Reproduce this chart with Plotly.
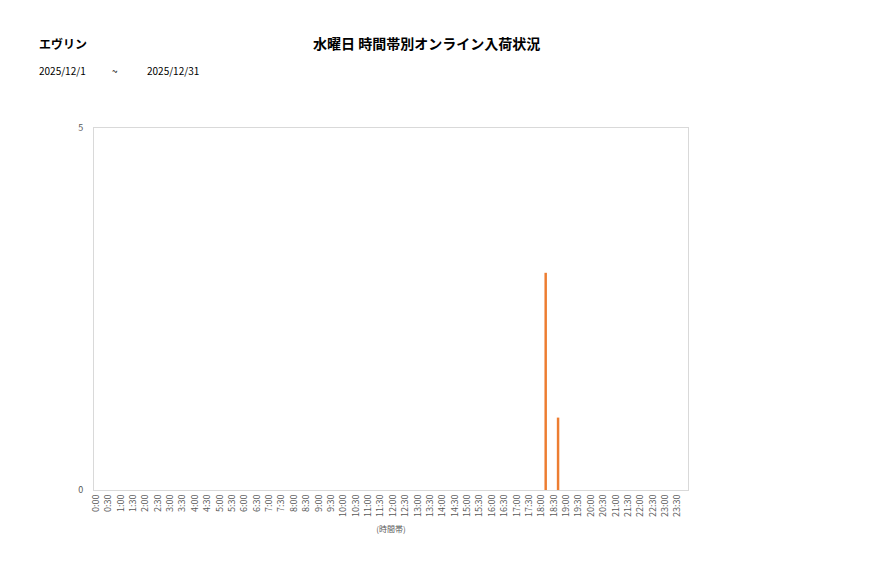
import plotly.graph_objects as go

# 30-minute slots for the day
slot_labels = [f"{h}:{m:02d}" for h in range(24) for m in (0, 30)]
arrivals = [0] * 48
arrivals[36] = 3  # 18:00
arrivals[37] = 1  # 18:30

shop_name = "エヴリン"
chart_title = "水曜日 時間帯別オンライン入荷状況"
date_from = "2025/12/1"
date_to = "2025/12/31"

font_family = "Noto Sans CJK JP"
idx = list(range(len(slot_labels)))

# page has an 8px body margin, so work in page pixels minus 8
L, R, T, B = 86, 197, 120, 96
W, H = 877, 578

fig = go.Figure()
fig.add_trace(go.Bar(
    x=[i + 0.5 for i in idx],
    y=arrivals,
    width=0.2,
    marker=dict(color="#ED7D31", line=dict(width=0)),
    showlegend=False,
))


def px_note(text, x, y, size, anchor="left"):
    return dict(
        text=text, xref="paper", yref="paper",
        x=(x - 8 - L) / (W - L - R), y=1 - (y - 8 - T) / (H - T - B),
        showarrow=False, font=dict(size=size, color="#000000"),
        xanchor=anchor, yanchor="middle",
    )


fig.update_layout(
    width=W, height=H,
    margin=dict(l=L, r=R, t=T, b=B),
    paper_bgcolor="white",
    plot_bgcolor="white",
    font=dict(family=font_family, color="#595959", size=9),
    annotations=[
        px_note(f"<b>{shop_name}</b>", 37, 43, 12),
        px_note(f"<b>{chart_title}</b>", 427, 43, 14, "center"),
        px_note(date_from, 37, 70, 10),
        px_note("~", 115, 70, 10, "center"),
        px_note(date_to, 145, 70, 10),
    ],
)

fig.update_xaxes(
    range=[0, 48],
    tickmode="array",
    tickvals=[i + 0.15 for i in idx],
    ticktext=slot_labels,
    tickangle=-90,
    tickfont=dict(size=9, color="#595959"),
    showgrid=False,
    zeroline=False,
    showline=True, linecolor="#d9d9d9", linewidth=1, mirror=True,
    ticks="",
    title=dict(text="(時間帯)", font=dict(size=8, color="#595959"), standoff=10),
)
fig.update_yaxes(
    range=[0, 5],
    tickvals=[0, 5],
    tickfont=dict(size=9, color="#595959"),
    showgrid=False,
    zeroline=False,
    showline=True, linecolor="#d9d9d9", linewidth=1, mirror=True,
    ticks="",
    ticklabelstandoff=8,
)

fig.write_html("out.html")
